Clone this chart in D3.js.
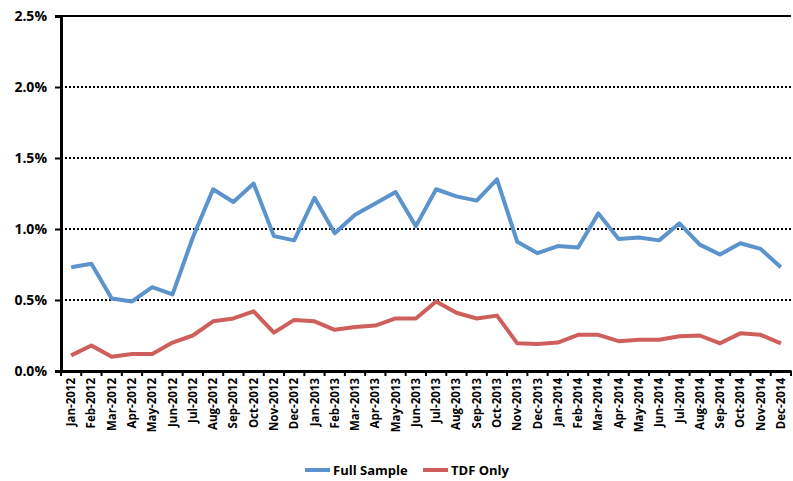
<!DOCTYPE html>
<html>
<head>
<meta charset="utf-8">
<script src="https://cdn.jsdelivr.net/npm/d3@7"></script>
<style>
  body { margin: 0; background: #fff; }
  text { font-family: "Open Sans", "Liberation Sans", sans-serif; font-weight: bold; fill: #000; }
</style>
</head>
<body>
<script>
const months = ["Jan-2012","Feb-2012","Mar-2012","Apr-2012","May-2012","Jun-2012","Jul-2012","Aug-2012","Sep-2012","Oct-2012","Nov-2012","Dec-2012",
  "Jan-2013","Feb-2013","Mar-2013","Apr-2013","May-2013","Jun-2013","Jul-2013","Aug-2013","Sep-2013","Oct-2013","Nov-2013","Dec-2013",
  "Jan-2014","Feb-2014","Mar-2014","Apr-2014","May-2014","Jun-2014","Jul-2014","Aug-2014","Sep-2014","Oct-2014","Nov-2014","Dec-2014"];

// values in percent
const fullSample = [0.73,0.755,0.51,0.49,0.59,0.54,0.94,1.28,1.19,1.32,0.95,0.92,
  1.22,0.97,1.10,1.18,1.26,1.02,1.28,1.23,1.20,1.35,0.91,0.83,
  0.88,0.87,1.11,0.93,0.94,0.92,1.04,0.89,0.82,0.90,0.86,0.73];
const tdfOnly = [0.11,0.18,0.10,0.12,0.12,0.20,0.25,0.35,0.37,0.42,0.27,0.36,
  0.35,0.29,0.31,0.32,0.37,0.37,0.49,0.41,0.37,0.39,0.195,0.19,
  0.20,0.255,0.255,0.21,0.22,0.22,0.245,0.25,0.195,0.265,0.255,0.195];

const yTicks = [0, 0.5, 1.0, 1.5, 2.0, 2.5];

let margin = {top: 16, right: 2, bottom: 110, left: 61}
  , width = 793 - margin.left - margin.right
  , height = 481 - margin.top - margin.bottom;

const svg = d3.select("body").append("svg")
    .attr("width", 793)
    .attr("height", 481)
  .append("g")
    .attr("transform", "translate(" + margin.left + "," + margin.top + ")");

let xScale = d3.scaleBand().domain(months).range([0, width]);
let yScale = d3.scaleLinear().domain([0, 2.5]).range([height, 0]);

// dotted gridlines
svg.selectAll(".grid")
    .data(yTicks.filter(d => d > 0 && d < 2.5))
  .enter().append("line")
    .attr("x1", 0).attr("x2", width)
    .attr("y1", d => yScale(d)).attr("y2", d => yScale(d))
    .attr("stroke", "#000")
    .attr("stroke-width", 2)
    .attr("stroke-dasharray", "2,2");

// top border
svg.append("line")
    .attr("x1", 0).attr("x2", width)
    .attr("y1", yScale(2.5)).attr("y2", yScale(2.5))
    .attr("stroke", "#000").attr("stroke-width", 2);

// y axis
const yAxis = svg.append("g")
    .call(d3.axisLeft(yScale).tickValues(yTicks).tickSize(6).tickPadding(8)
      .tickFormat(d => d.toFixed(1) + "%"));
yAxis.select(".domain").attr("stroke-width", 3);
yAxis.selectAll(".tick line").attr("stroke-width", 2);
yAxis.selectAll("text").style("font-size", "14px");

// x axis
const xAxis = svg.append("g")
    .attr("transform", "translate(0," + height + ")")
    .call(d3.axisBottom(xScale).tickSize(0).tickPadding(0));
xAxis.select(".domain").attr("stroke-width", 3);
xAxis.selectAll("text")
    .style("font-size", "11.5px")
    .attr("text-anchor", "end")
    .attr("dy", "0.35em")
    .attr("transform", "translate(0,7) rotate(-90)");
// boundary tick marks
svg.selectAll(".xtick")
    .data(d3.range(months.length + 1))
  .enter().append("line")
    .attr("x1", i => i * xScale.step()).attr("x2", i => i * xScale.step())
    .attr("y1", height).attr("y2", height + 5)
    .attr("stroke", "#000").attr("stroke-width", 2);

// lines
let line = d3.line()
    .x((d, i) => xScale(months[i]) + xScale.bandwidth() / 2)
    .y(d => yScale(d));

svg.append("path")
    .datum(fullSample)
    .attr("fill", "none")
    .attr("stroke", "#5B94CD")
    .attr("stroke-width", 4)
    .attr("stroke-linejoin", "round")
    .attr("d", line);

svg.append("path")
    .datum(tdfOnly)
    .attr("fill", "none")
    .attr("stroke", "#CF5F5C")
    .attr("stroke-width", 4)
    .attr("stroke-linejoin", "round")
    .attr("d", line);

// legend
const legend = [
  {name: "Full Sample", color: "#5B94CD", x: 305},
  {name: "TDF Only", color: "#CF5F5C", x: 423}
];
const lg = d3.select("svg").selectAll(".legend")
    .data(legend)
  .enter().append("g")
    .attr("transform", d => "translate(" + d.x + ",470)");
lg.append("line")
    .attr("x1", 0).attr("x2", 25)
    .attr("stroke", d => d.color).attr("stroke-width", 4);
lg.append("text")
    .attr("x", 28).attr("dy", "0.35em")
    .style("font-size", "13px")
    .text(d => d.name);
</script>
</body>
</html>
